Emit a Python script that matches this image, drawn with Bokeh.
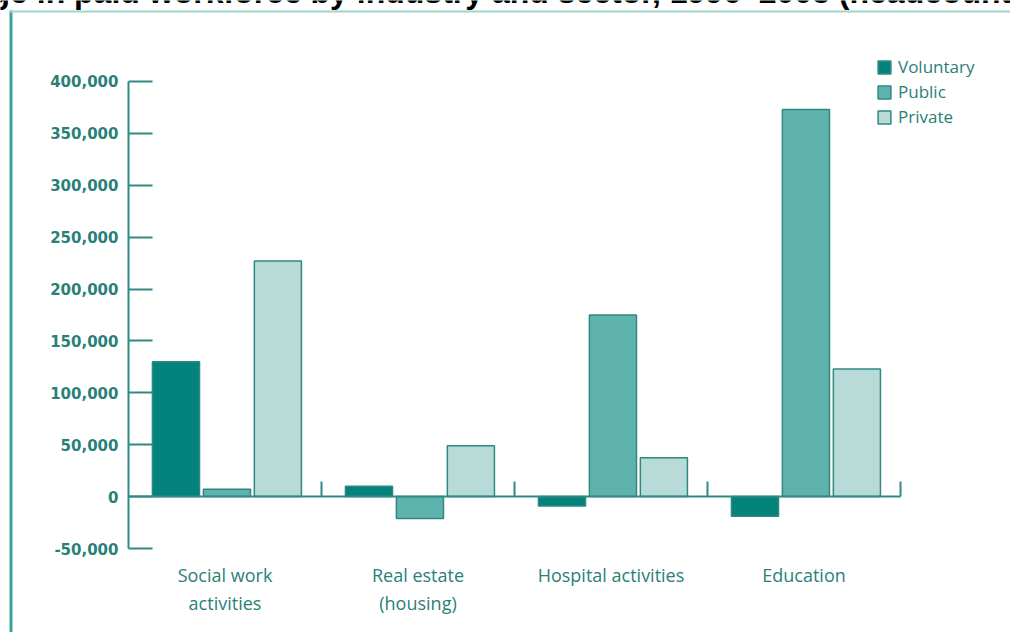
from bokeh.plotting import figure
from bokeh.models import (ColumnDataSource, Range1d, FixedTicker, NumeralTickFormatter, LinearAxis,
                          Legend, LegendItem, Label, BoxAnnotation)
from bokeh.transform import dodge
from bokeh.embed import file_html
from bokeh.resources import INLINE

# ---- data ----
categories = ["Social work\nactivities", "Real estate\n(housing)", "Hospital activities", "Education"]
sectors = ["Voluntary", "Public", "Private"]
voluntary = [130000, 10000, -9000, -19000]
public = [7000, -21000, 175000, 373000]
private = [227000, 49000, 37500, 123000]
y_ticks = [-50000, 0, 50000, 100000, 150000, 200000, 250000, 300000, 350000, 400000]
title_text = "Change in paid workforce by industry and sector, 1996\u20132005 (headcount)"

colors = {"Voluntary": "#03837c", "Public": "#5fb3ad", "Private": "#b8dbd8"}
teal = "#2f8a84"
text_teal = "#2a7f79"

centers = [i + 0.5 for i in range(len(categories))]
src = ColumnDataSource(data=dict(x=centers, Voluntary=voluntary, Public=public, Private=private))

p = figure(width=1010, height=632, x_range=Range1d(-0.6632, 4.5699),
           y_range=Range1d(-130942, 478050), output_backend="svg", toolbar_location=None,
           min_border=0, x_axis_type=None, y_axis_type=None)
p.outline_line_color = None
p.xgrid.grid_line_color = None
p.ygrid.grid_line_color = None
p.background_fill_color = "white"
p.border_fill_color = "white"

offsets = [-0.254, 0.01, 0.274]
renderers = {}
for s, off in zip(sectors, offsets):
    renderers[s] = p.vbar(x=dodge("x", off), top=s, bottom=0, width=0.244,
                          source=src, fill_color=colors[s], line_color="#2f8882", line_width=1.5)

# y axis
ya = LinearAxis(fixed_location=0, ticker=FixedTicker(ticks=y_ticks),
                formatter=NumeralTickFormatter(format="0,0"), bounds=(-50000, 400000))
ya.major_tick_in = 24
ya.major_tick_out = 0
ya.minor_tick_line_color = None
ya.axis_line_color = teal
ya.axis_line_width = 2
ya.major_tick_line_color = teal
ya.major_tick_line_width = 2
ya.major_label_standoff = 10
ya.major_label_text_color = text_teal
ya.major_label_text_font = "DejaVu Sans"
ya.major_label_text_font_size = "15px"
ya.major_label_text_font_style = "bold"
p.add_layout(ya, "left")

# zero line with category boundary ticks
za = LinearAxis(fixed_location=0, ticker=FixedTicker(ticks=[1, 2, 3, 4]), bounds=(0, len(categories)))
za.major_tick_in = 15
za.major_tick_out = 0
za.minor_tick_line_color = None
za.axis_line_color = teal
za.axis_line_width = 2
za.major_tick_line_color = teal
za.major_tick_line_width = 2
za.major_label_text_color = None
p.add_layout(za, "below")

# category labels
xa = LinearAxis(fixed_location=-50000, ticker=FixedTicker(ticks=centers),
                major_label_overrides={c: lab for c, lab in zip(centers, categories)})
xa.axis_line_color = None
xa.major_tick_line_color = None
xa.minor_tick_line_color = None
xa.major_label_standoff = 8
xa.major_label_text_color = text_teal
xa.major_label_text_font = "Open Sans"
xa.major_label_text_font_size = "18px"
p.add_layout(xa, "below")

# legend
legend = Legend(items=[LegendItem(label=s, renderers=[renderers[s]]) for s in sectors],
                location=(876, 504), orientation="vertical",
                glyph_width=16, glyph_height=16, label_height=16, spacing=2,
                padding=0, margin=0, border_line_color=None, background_fill_alpha=0,
                label_text_color=text_teal, label_text_font="Open Sans",
                label_text_font_size="17px", label_standoff=6)
p.add_layout(legend, "center")

# frame box and cropped title
p.add_layout(BoxAnnotation(left=9, right=12, top=10, bottom=632,
                           left_units="canvas", right_units="canvas",
                           top_units="canvas", bottom_units="canvas",
                           fill_color="#3aa39c", fill_alpha=1, line_color=None))
p.add_layout(BoxAnnotation(left=9, right=1010, top=10, bottom=12,
                           left_units="canvas", right_units="canvas",
                           top_units="canvas", bottom_units="canvas",
                           fill_color="#9fd4d0", fill_alpha=1, line_color=None))
p.add_layout(Label(x=-90, y=-9, x_units="canvas", y_units="canvas", text=title_text,
                   text_font="Liberation Sans", text_font_style="bold", text_font_size="32px",
                   text_color="black", text_baseline="alphabetic", text_align="left"))

open("out.html", "w").write(file_html(p, INLINE))
